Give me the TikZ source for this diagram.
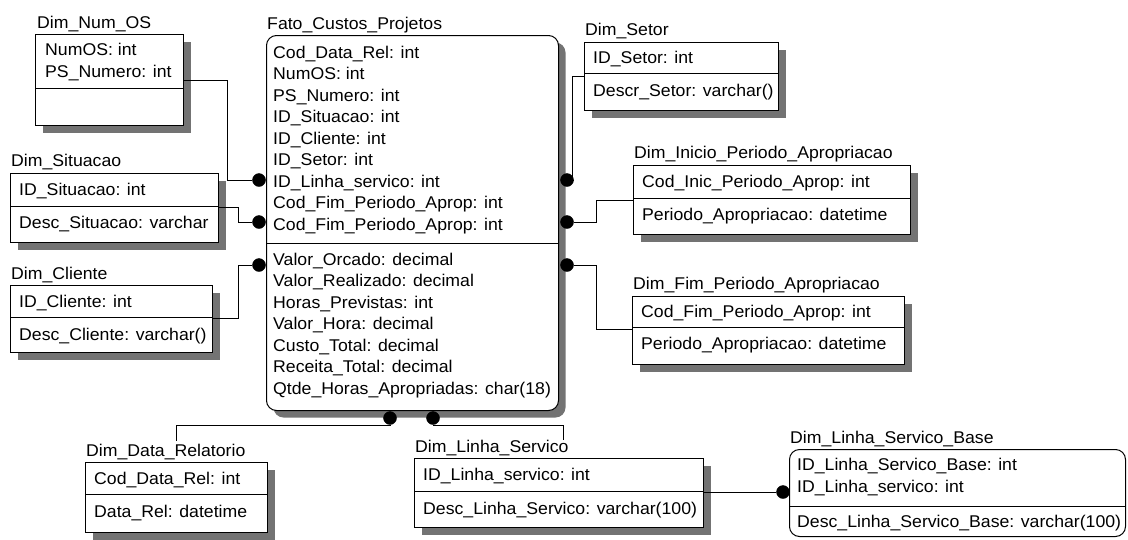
\documentclass[tikz,border=0pt]{standalone}
\usepackage{fontspec}
\setmainfont{Liberation Sans}[FakeStretch=1.04]
\usetikzlibrary{shadows}
\begin{document}
\begin{tikzpicture}[x=1pt,y=-1pt,
  every node/.style={font=\fontsize{17}{20}\selectfont},
  tbl/.style={draw, fill=white, line width=1pt, inner sep=0pt, anchor=north west,
    drop shadow={shadow xshift=7pt, shadow yshift=-7pt, fill=black!55, opacity=1}},
  plainbox/.style={draw, fill=white, line width=1pt, inner sep=0pt, anchor=north west},
  sep/.style={line width=1pt},
  ttl/.style={anchor=base west, inner sep=0pt},
  row/.style={anchor=base west, inner sep=0pt},
  conn/.style={line width=1pt},
  dot/.style={circle, fill=black, draw=black, inner sep=0pt, minimum size=13pt}]
\useasboundingbox (0,0) rectangle (1128,539);

% ---- Dim_Num_OS ----
\node[tbl, minimum width=148pt, minimum height=91pt] (numos) at (35,34) {};
\draw[sep] (numos.west |- 0,88) -- (numos.east |- 0,88);
\node[ttl] (numos-t) at (37,28) {Dim\_Num\_OS};
\node[row] (numos-r1) at (45,55) {NumOS: int};
\node[row] (numos-r2) at (45,77) {PS\_Numero: int};

% ---- Fato_Custos_Projetos ----
\node[tbl, rounded corners=10pt, minimum width=292pt, minimum height=375pt] (fato) at (266,35) {};
\draw[sep] (fato.west |- 0,243) -- (fato.east |- 0,243);
\node[ttl] (fato-t) at (267,29) {Fato\_Custos\_Projetos};
\foreach \t [count=\i from 0] in {Cod\_Data\_Rel: int, NumOS: int, PS\_Numero: int,
    ID\_Situacao: int, ID\_Cliente: int, ID\_Setor: int, ID\_Linha\_servico: int,
    Cod\_Fim\_Periodo\_Aprop: int, Cod\_Fim\_Periodo\_Aprop: int}
  \node[row] (fato-k\i) at (273,{58+21.5*\i}) {\t};
\foreach \t [count=\i from 0] in {Valor\_Orcado: decimal, Valor\_Realizado: decimal,
    Horas\_Previstas: int, Valor\_Hora: decimal, Custo\_Total: decimal,
    Receita\_Total: decimal, Qtde\_Horas\_Apropriadas: char(18)}
  \node[row] (fato-a\i) at (273,{265+21.5*\i}) {\t};

% ---- Dim_Setor ----
\node[tbl, minimum width=194pt, minimum height=68pt] (setor) at (584,42) {};
\draw[sep] (setor.west |- 0,73) -- (setor.east |- 0,73);
\node[ttl] (setor-t) at (585,35.5) {Dim\_Setor};
\node[row] (setor-r1) at (593,63) {ID\_Setor: int};
\node[row] (setor-r2) at (593,96) {Descr\_Setor: varchar()};

% ---- Dim_Inicio_Periodo_Apropriacao ----
\node[tbl, minimum width=277pt, minimum height=69pt] (inicio) at (633,165) {};
\draw[sep] (inicio.west |- 0,198) -- (inicio.east |- 0,198);
\node[ttl] (inicio-t) at (634,158) {Dim\_Inicio\_Periodo\_Apropriacao};
\node[row] (inicio-r1) at (642,187) {Cod\_Inic\_Periodo\_Aprop: int};
\node[row] (inicio-r2) at (642,220) {Periodo\_Apropriacao: datetime};

% ---- Dim_Fim_Periodo_Apropriacao ----
\node[tbl, minimum width=272pt, minimum height=68pt] (fim) at (632,296) {};
\draw[sep] (fim.west |- 0,327) -- (fim.east |- 0,327);
\node[ttl] (fim-t) at (633,289) {Dim\_Fim\_Periodo\_Apropriacao};
\node[row] (fim-r1) at (641,317) {Cod\_Fim\_Periodo\_Aprop: int};
\node[row] (fim-r2) at (641,349) {Periodo\_Apropriacao: datetime};

% ---- Dim_Situacao ----
\node[tbl, minimum width=208pt, minimum height=69pt] (situacao) at (10,173) {};
\draw[sep] (situacao.west |- 0,206) -- (situacao.east |- 0,206);
\node[ttl] (situacao-t) at (11,166) {Dim\_Situacao};
\node[row] (situacao-r1) at (19,195) {ID\_Situacao: int};
\node[row] (situacao-r2) at (19,228) {Desc\_Situacao: varchar};

% ---- Dim_Cliente ----
\node[tbl, minimum width=202pt, minimum height=67pt] (cliente) at (10,285) {};
\draw[sep] (cliente.west |- 0,317) -- (cliente.east |- 0,317);
\node[ttl] (cliente-t) at (11,279) {Dim\_Cliente};
\node[row] (cliente-r1) at (19,307) {ID\_Cliente: int};
\node[row] (cliente-r2) at (19,340) {Desc\_Cliente: varchar()};

% ---- Dim_Data_Relatorio ----
\node[tbl, minimum width=182pt, minimum height=70pt] (datarel) at (85,462) {};
\draw[sep] (datarel.west |- 0,494) -- (datarel.east |- 0,494);
\node[ttl] (datarel-t) at (86,456) {Dim\_Data\_Relatorio};
\node[row] (datarel-r1) at (94,484) {Cod\_Data\_Rel: int};
\node[row] (datarel-r2) at (94,517) {Data\_Rel: datetime};

% ---- Dim_Linha_Servico ----
\node[tbl, minimum width=289pt, minimum height=69pt] (linserv) at (414,458) {};
\draw[sep] (linserv.west |- 0,491) -- (linserv.east |- 0,491);
\node[ttl] (linserv-t) at (415,452) {Dim\_Linha\_Servico};
\node[row] (linserv-r1) at (423,480) {ID\_Linha\_servico: int};
\node[row] (linserv-r2) at (423,514) {Desc\_Linha\_Servico: varchar(100)};

% ---- Dim_Linha_Servico_Base ----
\node[plainbox, rounded corners=10pt, minimum width=336pt, minimum height=87pt] (base) at (789,449) {};
\draw[sep] (base.west |- 0,506) -- (base.east |- 0,506);
\node[ttl] (base-t) at (790,443) {Dim\_Linha\_Servico\_Base};
\node[row] (base-r1) at (797,470) {ID\_Linha\_Servico\_Base: int};
\node[row] (base-r2) at (797,492) {ID\_Linha\_servico: int};
\node[row] (base-r3) at (797,527) {Desc\_Linha\_Servico\_Base: varchar(100)};

% ---- relationship ends on the fact table ----
\node[dot] (d1) at (259,180) {};
\node[dot] (d2) at (259,222) {};
\node[dot] (d3) at (259,265) {};
\node[dot] (d4) at (567,180) {};
\node[dot] (d5) at (567,222) {};
\node[dot] (d6) at (567,265) {};
\node[dot] (d7) at (390,418) {};
\node[dot] (d8) at (433,418) {};
\node[dot] (d9) at (783,492) {};

% ---- connectors ----
\draw[conn] (numos.east |- 0,80) -| (227,180) -- (d1);
\draw[conn] (situacao.east |- 0,207) -| (238,222) -- (d2);
\draw[conn] (cliente.east |- 0,318) -| (238,265) -- (d3);
\draw[conn] (setor.west |- 0,76) -| (572,180) -- (d4);
\draw[conn] (inicio.west |- 0,200) -| (596,222) -- (d5);
\draw[conn] (d6) -- (596,265) |- (fim.west |- 0,329);
\coordinate (datarel-in) at (176,441);
\coordinate (linserv-in) at (563,440);
\draw[conn] (d7) |- (176,425) -- (datarel-in);
\draw[conn] (d8) |- (563,425) -- (linserv-in);
\draw[conn] (linserv.east |- 0,492) -- (d9);
\end{tikzpicture}
\end{document}
